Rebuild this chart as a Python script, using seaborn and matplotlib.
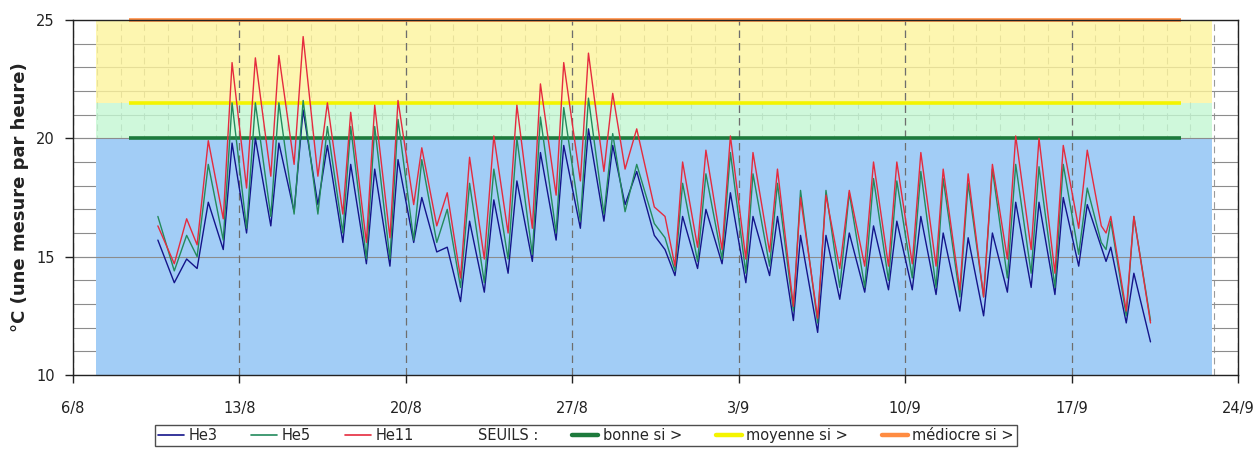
import datetime as dt
import numpy as np
import pandas as pd
import matplotlib
matplotlib.use("Agg")
import matplotlib.pyplot as plt
from matplotlib.ticker import MultipleLocator, FuncFormatter
from matplotlib.lines import Line2D
import seaborn as sns

# ---------------- data ----------------
START = dt.date(2007, 8, 6)          # x = 0 -> 6/8

# daily turning points (days after 6/8 00:00)
days = [3.57, 4.26, 4.78, 5.22, 5.69, 6.32, 6.69, 7.30, 7.67, 8.32,
        8.66, 9.30, 9.68, 10.30, 10.70, 11.35, 11.68, 12.34, 12.69, 13.33,
        13.67, 14.33, 14.67, 15.30, 15.74, 16.30, 16.68, 17.30, 17.70, 18.30,
        18.67, 19.32, 19.66, 20.32, 20.64, 21.34, 21.68, 22.33, 22.70, 23.22,
        23.71, 24.45, 24.90, 25.32, 25.64, 26.27, 26.62, 27.30, 27.65, 28.30,
        28.60, 29.30, 29.63, 30.30, 30.60, 31.32, 31.67, 32.25, 32.65, 33.30,
        33.67, 34.30, 34.65, 35.30, 35.66, 36.30, 36.60, 37.30, 37.65, 38.30,
        38.67, 39.30, 39.65, 40.30, 40.63, 41.30, 41.65, 42.30, 42.66, 43.25,
        43.45, 43.65, 44.30, 44.62, 45.32]

he3 = [15.7, 13.9, 14.9, 14.5, 17.3, 15.3, 19.8, 16.0, 20.0, 16.3,
       19.8, 16.9, 21.2, 17.2, 19.7, 15.6, 18.9, 14.7, 18.7, 14.6,
       19.1, 15.6, 17.5, 15.2, 15.4, 13.1, 16.5, 13.5, 17.4, 14.3,
       18.2, 14.8, 19.4, 15.7, 19.7, 16.2, 20.4, 16.5, 19.7, 17.2,
       18.6, 15.9, 15.3, 14.2, 16.7, 14.5, 17.0, 14.7, 17.7, 13.9,
       16.7, 14.2, 16.7, 12.3, 15.9, 11.8, 15.9, 13.2, 16.0, 13.5,
       16.3, 13.6, 16.5, 13.6, 16.7, 13.4, 16.0, 12.7, 15.8, 12.5,
       16.0, 13.5, 17.3, 13.7, 17.3, 13.4, 17.5, 14.6, 17.2, 15.4,
       14.8, 15.4, 12.2, 14.3, 11.4]

he5 = [16.7, 14.4, 15.9, 15.0, 18.9, 15.7, 21.5, 16.2, 21.5, 16.7,
       21.5, 16.8, 21.6, 16.8, 20.5, 16.0, 20.5, 14.9, 20.5, 14.9,
       20.8, 15.7, 19.1, 15.6, 17.0, 13.7, 18.1, 13.9, 18.7, 14.9,
       20.0, 15.1, 20.9, 16.0, 21.3, 16.5, 21.7, 16.8, 20.2, 16.9,
       18.9, 16.4, 15.8, 14.4, 18.1, 14.8, 18.5, 14.9, 19.4, 14.3,
       18.5, 14.6, 18.1, 12.7, 17.8, 12.2, 17.8, 13.7, 17.7, 13.7,
       18.3, 14.0, 18.2, 14.1, 18.6, 13.7, 18.3, 13.3, 18.1, 13.3,
       18.7, 14.1, 18.9, 14.3, 18.8, 13.7, 18.9, 15.1, 17.9, 15.6,
       15.3, 16.5, 12.5, 16.7, 12.3]

he11 = [16.3, 14.7, 16.6, 15.5, 19.9, 16.6, 23.2, 17.9, 23.4, 18.4,
        23.5, 18.9, 24.3, 18.4, 21.5, 16.8, 21.1, 15.6, 21.4, 15.8,
        21.6, 17.2, 19.6, 16.3, 17.7, 14.1, 19.2, 14.9, 20.1, 16.0,
        21.4, 16.2, 22.3, 17.6, 23.2, 18.2, 23.6, 18.6, 21.9, 18.7,
        20.4, 17.1, 16.7, 14.6, 19.0, 15.4, 19.5, 15.3, 20.1, 14.9,
        19.4, 15.2, 18.7, 12.9, 17.5, 12.4, 17.6, 14.5, 17.8, 14.6,
        19.0, 14.6, 19.0, 14.7, 19.4, 14.6, 18.7, 13.6, 18.5, 13.3,
        18.9, 14.9, 20.1, 15.3, 20.0, 14.3, 19.7, 16.2, 19.5, 16.3,
        16.0, 16.7, 12.7, 16.7, 12.2]

series_names = ["He3", "He5", "He11"]
series_colors = ["#14148a", "#238a5c", "#e52b3e"]

threshold_names = ["bonne si >", "moyenne si >", "médiocre si >"]
threshold_values = [20.0, 21.5, 25.0]
threshold_colors = ["#1d7a3c", "#f4f400", "#ff8c42"]
threshold_span = [2.35, 46.6]        # days after 6/8

band_edges = [10.0, 20.0, 21.5, 25.0]
band_colors = ["#a2cdf6", "#c4f7d2", "#fdf49c"]
band_alpha = [1.0, 0.8, 0.8]
band_span = [0.97, 47.9]             # days after 6/8

x_limits = [0, 49]
y_limits = [10, 25]

# ---------------- figure ----------------
sns.set_theme(style="white")
plt.rcParams["font.family"] = ["DejaVu Sans"]

fig = plt.figure(figsize=(12.59, 4.54), dpi=100)
ax = fig.add_axes([73 / 1259, 1 - 375 / 454, (1238 - 73) / 1259, (375 - 20) / 454])

ax.set_xlim(*x_limits)
ax.set_ylim(*y_limits)
ax.set_axisbelow(True)

# minor grid (hidden by the opaque blue zone, seen through the others)
ax.xaxis.set_major_locator(MultipleLocator(7))
ax.xaxis.set_minor_locator(MultipleLocator(1))
ax.yaxis.set_major_locator(MultipleLocator(5))
ax.yaxis.set_minor_locator(MultipleLocator(1))
ax.grid(which="minor", axis="y", color="#8c8c8c", linewidth=0.8, linestyle="-")
ax.grid(which="minor", axis="x", color="#9a9a9a", linewidth=0.8, linestyle=(0, (6, 4)))
ax.grid(which="major", axis="y", color="#8c8c8c", linewidth=0.8, linestyle="-")
ax.grid(which="major", axis="x", color="#777777", linewidth=0.9, linestyle=(0, (6, 4)))

# comfort zones
band_x = np.array(band_span)
for i in range(len(band_colors)):
    ax.fill_between(band_x, band_edges[i], band_edges[i + 1],
                    color=band_colors[i], alpha=band_alpha[i], linewidth=0, zorder=1)

# major grid lines drawn again above the zones
for yv in ax.get_yticks():
    if y_limits[0] < yv < y_limits[1]:
        ax.axhline(yv, color="#8c8c8c", linewidth=0.8, zorder=1.5)
for xv in ax.get_xticks():
    if x_limits[0] < xv < x_limits[1]:
        ax.axvline(xv, color="#6e6e6e", linewidth=0.9, linestyle=(0, (6, 4)), zorder=1.5)

# thresholds
for val, col in zip(threshold_values, threshold_colors):
    ax.plot(threshold_span, [val, val], color=col, linewidth=2.6,
            solid_capstyle="butt", zorder=2, clip_on=False)

# temperature series
df = pd.DataFrame({
    "day": days * 3,
    "temp": he3 + he5 + he11,
    "sonde": ["He3"] * len(days) + ["He5"] * len(days) + ["He11"] * len(days),
})
sns.lineplot(data=df, x="day", y="temp", hue="sonde", hue_order=series_names,
             palette=dict(zip(series_names, series_colors)), linewidth=1.0,
             estimator=None, sort=False, legend=False, ax=ax, zorder=3)

# axes cosmetics
ax.set_xlabel("")
ax.set_ylabel("°C (une mesure par heure)", fontsize=13, fontweight="bold",
              color="#222222", labelpad=5)


def day_label(x, pos):
    d = START + dt.timedelta(days=int(round(x)))
    return f"{d.day}/{d.month}"


ax.xaxis.set_major_formatter(FuncFormatter(day_label))
ax.tick_params(axis="both", which="major", direction="out", length=6, width=1,
               color="#222222", labelsize=10.5, labelcolor="#222222")
ax.tick_params(axis="x", which="major", pad=13)
ax.tick_params(axis="y", which="major", pad=7)
ax.tick_params(axis="both", which="minor", length=0)
ax.tick_params(axis="x", bottom=True)
ax.tick_params(axis="y", left=True)
for sp in ax.spines.values():
    sp.set_visible(True)
    sp.set_color("#222222")
    sp.set_linewidth(1.0)

# legend
handles = [Line2D([], [], color=c, linewidth=1.2) for c in series_colors]
labels = list(series_names)
handles.append(Line2D([], [], color="none"))
labels.append("SEUILS :")
handles += [Line2D([], [], color=c, linewidth=3.2) for c in threshold_colors]
labels += threshold_names
leg = fig.legend(handles, labels, loc="upper left",
                 bbox_to_anchor=(155 / 1259, 1 - 425 / 454, 862 / 1259, 0),
                 mode="expand", ncol=7,
                 frameon=True, fancybox=False, edgecolor="#222222",
                 fontsize=10.5, handlelength=1.8, handletextpad=0.3,
                 columnspacing=1.0, borderpad=0.2, borderaxespad=0)
leg.get_frame().set_linewidth(1.0)

fig.savefig("out.png", dpi=100, facecolor="white")
